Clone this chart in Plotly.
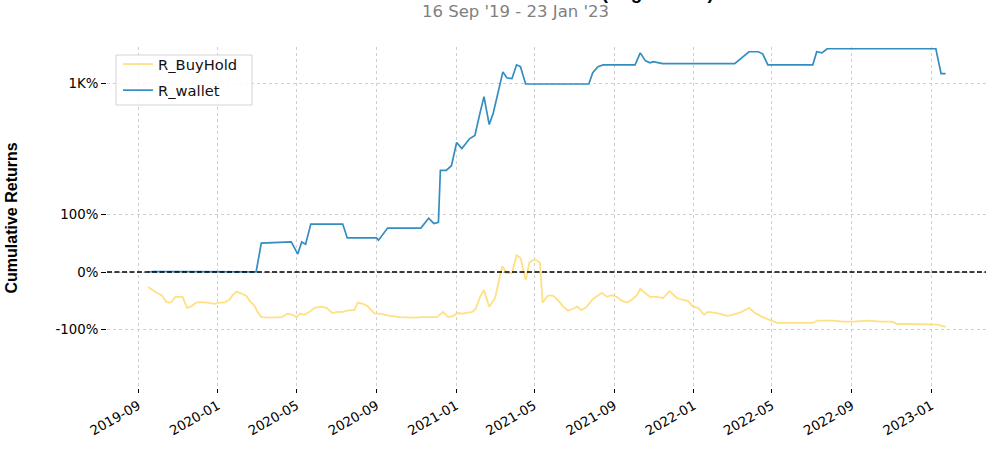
import math
import plotly.graph_objects as go

# ---- data (cumulative returns, percent) ----
wallet_dates = [
    "2019-09-16", "2019-09-23", "2019-11-01", "2020-01-01", "2020-02-29",
    "2020-03-08", "2020-04-23", "2020-05-03", "2020-05-09", "2020-05-15",
    "2020-05-23", "2020-07-11", "2020-07-18", "2020-09-01", "2020-09-04",
    "2020-09-18", "2020-11-08", "2020-11-20", "2020-11-28", "2020-12-05",
    "2020-12-08", "2020-12-17", "2020-12-25", "2021-01-02", "2021-01-10",
    "2021-01-22", "2021-01-30", "2021-02-07", "2021-02-13", "2021-02-21",
    "2021-02-27", "2021-03-14", "2021-03-20", "2021-03-28", "2021-04-04",
    "2021-04-10", "2021-04-18", "2021-07-24", "2021-07-30", "2021-08-07",
    "2021-08-15", "2021-10-03", "2021-10-11", "2021-10-19", "2021-10-26",
    "2021-10-31", "2021-11-14", "2022-03-05", "2022-03-16", "2022-03-27",
    "2022-04-10", "2022-04-17", "2022-04-25", "2022-07-03", "2022-07-09",
    "2022-07-17", "2022-07-25", "2023-01-08", "2023-01-16", "2023-01-23",
]
wallet_pct = [
    0, 0.5, 0.5, 0.3, 0.3,
    50, 52, 31, 52, 48,
    83, 83, 59, 59, 55,
    76, 76, 93, 84, 86,
    176, 176, 184, 272, 238,
    297, 318, 528, 752, 405,
    516, 1300, 1140, 1120, 1520,
    1460, 995, 995, 1275, 1460,
    1520, 1520, 1980, 1660, 1590,
    1630, 1560, 1560, 1780, 2030,
    2030, 1940, 1520, 1520, 2030,
    1980, 2170, 2170, 1250, 1250,
]

buyhold_dates = [
    "2019-09-16", "2019-09-29", "2019-10-07", "2019-10-14", "2019-10-19",
    "2019-10-22", "2019-10-28", "2019-11-03", "2019-11-08", "2019-11-15",
    "2019-11-22", "2019-11-29", "2019-12-08", "2019-12-16", "2019-12-27",
    "2020-01-04", "2020-01-11", "2020-01-19", "2020-01-24", "2020-01-30",
    "2020-02-07", "2020-02-14", "2020-02-19", "2020-02-27", "2020-03-02",
    "2020-03-08", "2020-03-20", "2020-03-31", "2020-04-09", "2020-04-17",
    "2020-04-25", "2020-05-01", "2020-05-07", "2020-05-13", "2020-05-21",
    "2020-05-29", "2020-06-08", "2020-06-16", "2020-06-25", "2020-07-03",
    "2020-07-11", "2020-07-22", "2020-07-29", "2020-08-03", "2020-08-11",
    "2020-08-18", "2020-08-29", "2020-09-06", "2020-09-21", "2020-10-07",
    "2020-10-27", "2020-11-11", "2020-12-03", "2020-12-12", "2020-12-20",
    "2020-12-28", "2021-01-03", "2021-01-11", "2021-01-18", "2021-01-26",
    "2021-01-31", "2021-02-07", "2021-02-13", "2021-02-21", "2021-03-02",
    "2021-03-13", "2021-03-20", "2021-03-28", "2021-04-04", "2021-04-10",
    "2021-04-18", "2021-04-24", "2021-05-02", "2021-05-10", "2021-05-14",
    "2021-05-22", "2021-05-30", "2021-06-06", "2021-06-14", "2021-06-22",
    "2021-06-29", "2021-07-06", "2021-07-13", "2021-07-21", "2021-07-30",
    "2021-08-07", "2021-08-13", "2021-08-21", "2021-08-28", "2021-09-05",
    "2021-09-13", "2021-09-21", "2021-09-28", "2021-10-06", "2021-10-11",
    "2021-10-18", "2021-10-26", "2021-11-05", "2021-11-15", "2021-11-25",
    "2021-12-06", "2021-12-14", "2021-12-23", "2021-12-31", "2022-01-08",
    "2022-01-17", "2022-01-23", "2022-02-06", "2022-02-21", "2022-03-02",
    "2022-03-16", "2022-03-27", "2022-04-05", "2022-04-17", "2022-04-30",
    "2022-05-09", "2022-05-24", "2022-06-13", "2022-07-03", "2022-07-11",
    "2022-08-03", "2022-08-18", "2022-09-03", "2022-09-25", "2022-10-15",
    "2022-11-02", "2022-11-10", "2022-11-25", "2022-12-15", "2023-01-04",
    "2023-01-10", "2023-01-23",
]
buyhold_pct = [
    -26, -36, -40, -52, -53,
    -52, -43, -43, -43, -62,
    -59, -53, -52, -53, -55,
    -53, -53, -48, -40, -34,
    -38, -41, -50, -59, -69,
    -78, -79, -79, -78, -72,
    -74, -78, -72, -74, -69,
    -62, -60, -62, -71, -69,
    -69, -66, -66, -53, -55,
    -59, -72, -72, -76, -78,
    -79, -78, -78, -69, -78,
    -76, -71, -72, -71, -69,
    -64, -43, -31, -60, -45,
    10, -2, -2, 29, 24,
    -14, 17, 22, 16, -53,
    -41, -41, -48, -59, -67,
    -64, -60, -66, -60, -47,
    -40, -36, -43, -40, -43,
    -50, -53, -48, -40, -29,
    -36, -43, -43, -45, -33,
    -45, -48, -50, -60, -62,
    -74, -69, -71, -76, -74,
    -69, -62, -71, -78, -84,
    -88, -88, -88, -88, -84,
    -84, -86, -86, -84, -86,
    -86, -90, -90, -90, -90,
    -91, -95,
]

ytick_pct = [-100, 0, 100, 1000]
ytick_labels = ["-100%", "0%", "100%", "1K%"]
xtick_dates = ["2019-09-01", "2020-01-01", "2020-05-01", "2020-09-01",
               "2021-01-01", "2021-05-01", "2021-09-01", "2022-01-01",
               "2022-05-01", "2022-09-01", "2023-01-01"]

title = "Cumulative Returns vs Benchmark (Log Scaled)"
subtitle = "16 Sep '19 - 23 Jan '23"


# matplotlib-style symlog transform (linthresh=2, base 10, linscale 1)
def symlog(v, t=2.0, base=10.0, linscale=1.0):
    adj = linscale / (1.0 - 1.0 / base)
    if abs(v) <= t:
        return v * adj
    s = 1 if v > 0 else -1
    return s * t * (adj + math.log10(abs(v) / t))


def tr(pcts):
    return [symlog(p / 100.0) for p in pcts]


fig = go.Figure()
fig.add_trace(go.Scatter(
    x=buyhold_dates, y=tr(buyhold_pct), mode="lines", name="R_BuyHold",
    line=dict(color="#fedd78", width=1.8), opacity=0.9, legendgroup="a",
))
fig.add_trace(go.Scatter(
    x=wallet_dates, y=tr(wallet_pct), mode="lines", name="R_wallet",
    line=dict(color="#348dc1", width=1.7), legendgroup="b",
))

L, R, T, B = 107, 14, 47, 67
W, H = 1000, 455
pw, ph = W - L - R, H - T - B


def px_x(x):
    return (x - L) / pw


def px_y(y):
    return (H - B - y) / ph


# zero line
fig.add_shape(type="line", xref="paper", x0=0, x1=1, yref="y", y0=0, y1=0,
              line=dict(color="black", width=1.3, dash="5px,2.5px"), layer="above")

# legend frame
fig.add_shape(type="rect", xref="paper", yref="paper",
              x0=px_x(116), x1=px_x(252), y0=px_y(105), y1=px_y(55),
              line=dict(color="#d4d4d4", width=1),
              fillcolor="rgba(255,255,255,0.85)", layer="above")

fig.add_annotation(text="<b>" + title + "</b>", xref="paper", yref="paper",
                   x=px_x(500), y=px_y(4.8), xanchor="center", yanchor="bottom",
                   showarrow=False,
                   font=dict(family="Liberation Sans, Arial", size=18.7, color="black"))
fig.add_annotation(text=subtitle, xref="paper", yref="paper",
                   x=px_x(515), y=px_y(11.5), xanchor="center", yanchor="middle",
                   showarrow=False,
                   font=dict(family="DejaVu Sans", size=16.5, color="#808080"))
fig.add_annotation(text="<b>Cumulative Returns</b>", xref="paper", yref="paper",
                   x=px_x(11), y=px_y(218.5), xanchor="center", yanchor="middle",
                   textangle=-90, showarrow=False,
                   font=dict(family="Liberation Sans, Arial", size=16, color="black"))

fig.update_layout(
    width=W, height=H,
    margin=dict(l=L, r=R, t=T, b=B),
    paper_bgcolor="white", plot_bgcolor="white",
    showlegend=True,
    legend=dict(x=px_x(118), y=px_y(48), xanchor="left", yanchor="top",
                bgcolor="rgba(0,0,0,0)", borderwidth=0,
                tracegroupgap=4, traceorder="grouped",
                font=dict(family="DejaVu Sans", size=14.7, color="#111")),
    font=dict(family="DejaVu Sans", size=13.3, color="black"),
)
fig.update_xaxes(
    type="date", range=["2019-07-15", "2023-03-26"],
    tickvals=xtick_dates, tickformat="%Y-%m", tickangle=-30,
    ticks="outside", ticklen=4, tickcolor="black", tickwidth=1,
    showgrid=True, gridcolor="#cfcfcf", griddash="dot", gridwidth=0.9,
    showline=False, zeroline=False,
    tickfont=dict(family="DejaVu Sans", size=13.3, color="black"),
)
fig.update_yaxes(
    range=[-116 / 52.0, 225 / 52.0],
    tickvals=tr(ytick_pct), ticktext=ytick_labels,
    ticks="outside", ticklen=5, tickcolor="black", tickwidth=1,
    showgrid=True, gridcolor="#cfcfcf", griddash="dot", gridwidth=0.9,
    showline=False, zeroline=False,
    tickfont=dict(family="DejaVu Sans", size=13.3, color="black"),
)

fig.write_html("out.html")
